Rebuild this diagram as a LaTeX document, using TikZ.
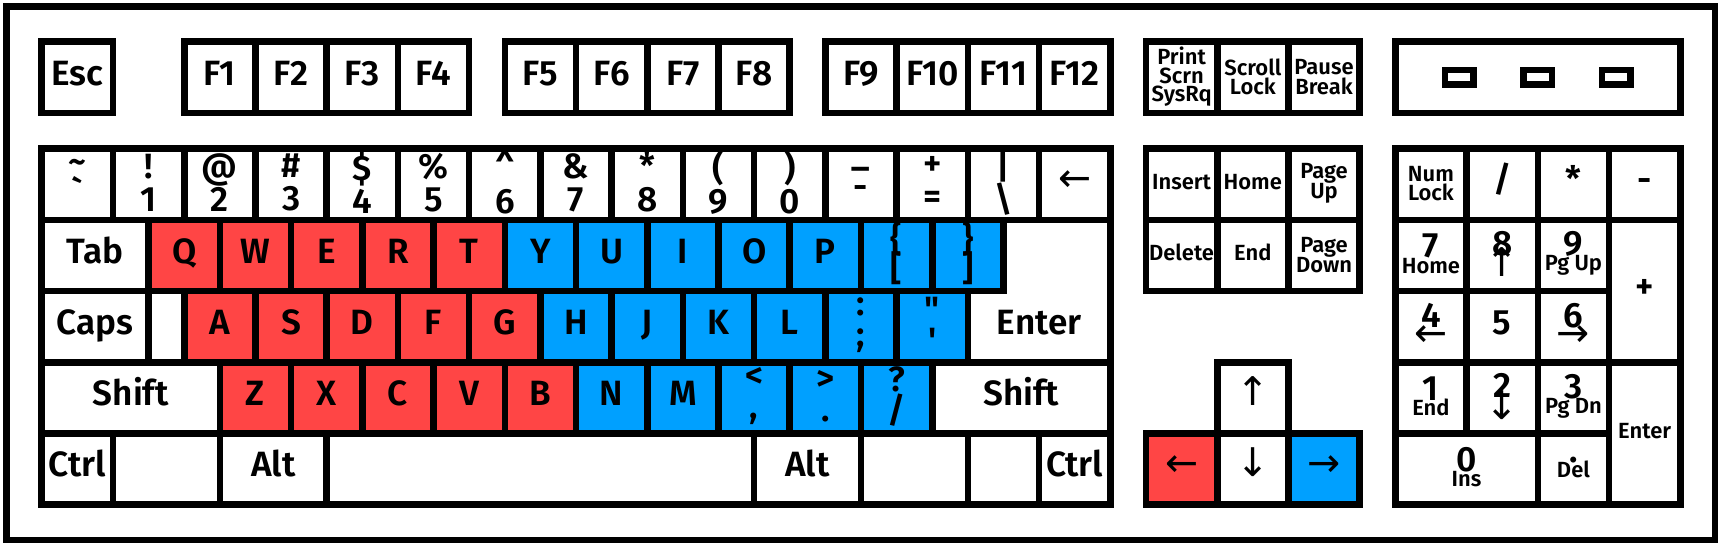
\documentclass[tikz,border=0pt]{standalone}
\usepackage{fontspec}
\IfFontExistsTF{Fira Sans SemiBold}
  {\setmainfont{Fira Sans SemiBold}\let\keyweight\relax}
  {\setmainfont{Fira Sans}\let\keyweight\bfseries}
\newfontfamily\arrowfam{DejaVu Sans}
\definecolor{keyred}{RGB}{255,69,69}
\definecolor{keyblue}{RGB}{0,160,255}
\newcommand\ku{32.435pt}
\newcommand\bigkey{\fontsize{16}{16}\selectfont\keyweight}
\newcommand\smallkey{\fontsize{10}{10}\selectfont\keyweight}
\newcommand\arr[1]{{\arrowfam\fontsize{18}{18}\selectfont#1}}
% legends stacked on one key, #1 = distance of baselines
\newcommand\keystack[2]{$\vcenter{\let\\\cr\baselineskip=#1\lineskiplimit=-\maxdimen
  \halign{\hfil##\hfil\cr#2\crcr}}$}

\begin{document}
\begin{tikzpicture}[x=\ku, y=-\ku]
  \tikzset{
    kw/.style={minimum width=#1*\ku, minimum height=\ku},
    bigtext/.style={font=\bigkey, text height=11pt, text depth=4pt},
    smalltext/.style={font=\smallkey, text height=7pt, text depth=2.5pt}
  }
  \path[fill=white, use as bounding box] (-0.5858,-0.5858) rectangle (23.586,7.107);
  \draw[line width=3pt] (-0.493,-0.493) rectangle (23.488,6.994);

  \tikzstyle{every node}=[draw, rectangle, line width=3pt, inner sep=0pt, outer sep=0pt,
    anchor=north west, fill=white, bigtext]

  % function row
  \path (0,0) node[kw=1] (esc) {Esc};
  \foreach \i in {1,...,4}
  {
    \path (\i+1,0) node[kw=1] (f\i) {F\i};
  }
  \foreach \i in {5,...,8}
  {
    \path (\i+1.5,0) node[kw=1] (f\i) {F\i};
  }
  \foreach \i in {9,...,12}
  {
    \path (\i+2,0) node[kw=1] (f\i) {F\i};
  }
  \path (15.5,0) node[kw=1, smalltext] (prtsc) {\keystack{8.5pt}{Print\\Scrn\\SysRq}};
  \path (16.5,0) node[kw=1, smalltext] (scrlk) {\keystack{9pt}{Scroll\\Lock}};
  \path (17.5,0) node[kw=1, smalltext] (pause) {\keystack{9pt}{Pause\\Break}};

  % lamps
  \path (19,0) node[kw=4] (lamps) {};
  \foreach \d [count=\n] in {-1.1,0,1.1}
  {
    \path (21+\d,0.5) node[anchor=center, minimum width=13pt, minimum height=6.5pt,
      text height=0pt, text depth=0pt] (led\n) {};
  }

  % number row
  \foreach \shf/\base [count=\i from 0] in {\textasciitilde/\textasciigrave, !/1, @/2,
    \#/3, \$/4, \%/5, \textasciicircum/6, \&/7, */8, {(}/9, {)}/0, \_/-, +/=,
    |/\textbackslash}
  {
    \path (\i,1.5) node[kw=1] (num\i) {\keystack{15pt}{\shf\\\base}};
  }
  \path (14,1.5) node[kw=1] (bksp) {\arr{←}};

  % top letter row
  \path (0,2.5) node[kw=1.5] (tab) {Tab};
  \foreach \lab [count=\i from 0] in {Q,W,E,R,T}
  {
    \path (1.5+\i,2.5) node[kw=1, fill=keyred] (k\lab) {\lab};
  }
  \foreach \lab [count=\i from 0] in {Y,U,I,O,P}
  {
    \path (6.5+\i,2.5) node[kw=1, fill=keyblue] (k\lab) {\lab};
  }
  \path (11.5,2.5) node[kw=1, fill=keyblue] (lbrack) {\keystack{13pt}{\{\\[}};
  \path (12.5,2.5) node[kw=1, fill=keyblue] (rbrack) {\keystack{13pt}{\}\\]}};

  % home row
  \path (0,3.5) node[kw=1.5] (caps) {Caps};
  \path (1.5,3.5) node[kw=0.5] (capsgap) {};
  \foreach \lab [count=\i from 0] in {A,S,D,F,G}
  {
    \path (2+\i,3.5) node[kw=1, fill=keyred] (k\lab) {\lab};
  }
  \foreach \lab [count=\i from 0] in {H,J,K,L}
  {
    \path (7+\i,3.5) node[kw=1, fill=keyblue] (k\lab) {\lab};
  }
  \path (11,3.5) node[kw=1, fill=keyblue] (semi) {\keystack{14pt}{:\\;}};
  \path (12,3.5) node[kw=1, fill=keyblue] (quote) {\keystack{14pt}{\textquotedbl\\\textquotesingle}};

  % enter
  \draw[line width=3pt, fill=white] (13.5,2.5) -- (15,2.5) -- (15,4.5) -- (13,4.5)
    -- (13,3.5) -- (13.5,3.5) -- cycle;
  \path (14,4) node[draw=none, fill=none, anchor=center] (enter) {Enter};

  % bottom letter row
  \path (0,4.5) node[kw=2.5] (lshift) {Shift};
  \foreach \lab [count=\i from 0] in {Z,X,C,V,B}
  {
    \path (2.5+\i,4.5) node[kw=1, fill=keyred] (k\lab) {\lab};
  }
  \foreach \lab [count=\i from 0] in {N,M}
  {
    \path (7.5+\i,4.5) node[kw=1, fill=keyblue] (k\lab) {\lab};
  }
  \path (9.5,4.5) node[kw=1, fill=keyblue] (comma) {\keystack{14pt}{<\\,}};
  \path (10.5,4.5) node[kw=1, fill=keyblue] (period) {\keystack{14pt}{>\\.}};
  \path (11.5,4.5) node[kw=1, fill=keyblue] (slash) {\keystack{14pt}{?\\/}};
  \path (12.5,4.5) node[kw=2.5] (rshift) {Shift};

  % space row
  \path (0,5.5) node[kw=1] (lctrl) {Ctrl};
  \path (1,5.5) node[kw=1.5] (lwin) {};
  \path (2.5,5.5) node[kw=1.5] (lalt) {Alt};
  \path (4,5.5) node[kw=6] (space) {};
  \path (10,5.5) node[kw=1.5] (ralt) {Alt};
  \path (11.5,5.5) node[kw=1.5] (rwin) {};
  \path (13,5.5) node[kw=1] (menu) {};
  \path (14,5.5) node[kw=1] (rctrl) {Ctrl};

  % edit block
  \path (15.5,1.5) node[kw=1, smalltext] (ins) {Insert};
  \path (16.5,1.5) node[kw=1, smalltext] (home) {Home};
  \path (17.5,1.5) node[kw=1, smalltext] (pgup) {\keystack{9pt}{Page\\Up}};
  \path (15.5,2.5) node[kw=1, smalltext] (del) {Delete};
  \path (16.5,2.5) node[kw=1, smalltext] (end) {End};
  \path (17.5,2.5) node[kw=1, smalltext] (pgdn) {\keystack{9pt}{Page\\Down}};

  % cursor keys
  \path (16.5,4.5) node[kw=1] (up) {\arr{↑}};
  \path (15.5,5.5) node[kw=1, fill=keyred] (left) {\arr{←}};
  \path (16.5,5.5) node[kw=1] (down) {\arr{↓}};
  \path (17.5,5.5) node[kw=1, fill=keyblue] (right) {\arr{→}};

  % keypad
  \path (19,1.5) node[kw=1, smalltext] (numlk) {\keystack{9pt}{Num\\Lock}};
  \path (20,1.5) node[kw=1] (kpdiv) {/};
  \path (21,1.5) node[kw=1] (kpmul) {*};
  \path (22,1.5) node[kw=1] (kpsub) {-};
  \path (19,2.5) node[kw=1] (kp7) {\keystack{7pt}{7\\\smallkey Home}};
  \path (20,2.5) node[kw=1] (kp8) {\keystack{9.5pt}{8\\\arr{↑}}};
  \path (21,2.5) node[kw=1] (kp9) {\keystack{7pt}{9\\\smallkey Pg Up}};
  \path (22,2.5) node[kw=1, minimum height=2*\ku] (kpadd) {+};
  \path (19,3.5) node[kw=1] (kp4) {\keystack{8.5pt}{4\\\arr{←}}};
  \path (20,3.5) node[kw=1] (kp5) {5};
  \path (21,3.5) node[kw=1] (kp6) {\keystack{8.5pt}{6\\\arr{→}}};
  \path (19,4.5) node[kw=1] (kp1) {\keystack{7pt}{1\\\smallkey End}};
  \path (20,4.5) node[kw=1] (kp2) {\keystack{10pt}{2\\\arr{↓}}};
  \path (21,4.5) node[kw=1] (kp3) {\keystack{7pt}{3\\\smallkey Pg Dn}};
  \path (22,4.5) node[kw=1, minimum height=2*\ku, smalltext] (kpenter) {Enter};
  \path (19,5.5) node[kw=2] (kp0) {\keystack{7pt}{0\\\smallkey Ins}};
  \path (21,5.5) node[kw=1] (kpdot) {\keystack{7pt}{.\\\smallkey Del}};
\end{tikzpicture}
\end{document}
